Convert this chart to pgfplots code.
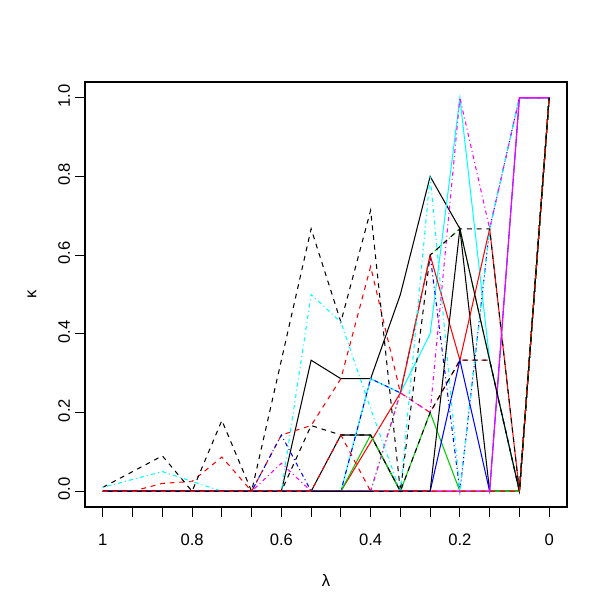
\documentclass[border=0pt]{standalone}
\usepackage{fontspec}
\setmainfont{Liberation Sans}
\usepackage{pgfplots}
\usepackage{pgfplotstable}
\pgfplotsset{compat=1.18}

\definecolor{rred}{RGB}{255,0,0}
\definecolor{rgreen}{RGB}{0,205,0}
\definecolor{rblue}{RGB}{0,0,255}
\definecolor{rcyan}{RGB}{0,255,255}
\definecolor{rmag}{RGB}{255,0,255}

% kappa for each run, index i = 0..15 stands for lambda = 1 - i/15
\pgfplotstableread{
i  ks1  kd1  kd2  ks2  ks3  rd1  rs1  rd2  bd1  bs1  cs1  cd1  md1  ms1  gs1  gd1
0  0    .01  0    0    0    0    0    0    0    0    0    .01  0    0    0    0
1  0    .05  0    0    0    0    0    0    0    0    0    .03  0    0    0    0
2  0    .09  0    0    0    .02  0    0    0    0    0    .05  0    0    0    0
3  0    0    0    0    0    .025 0    0    0    0    0    .025 0    0    0    0
4  0    .18  0    0    0    .087 0    0    0    0    0    0    0    0    0    0
5  0    0    0    0    0    0    0    0    0    0    0    0    0    0    0    0
6  0    .333 0    0    0    .143 0    0    .143 0    0    0    .071 0    0    0
7  .333 .667 .167 0    0    .167 0    0    0    0    0    .5   0    0    0    0
8  .286 .43  .143 0    .143 .286 0    .143 0    0    0    .43  0    0    0    0
9  .286 .714 .143 0    .143 .571 .125 0    .286 0    .286 .21  0    0    .143 0
10 .5   0    0    0    0    .25  .25  0    .25  0    .25  0    .25  0    0    .25
11 .8   .6   .2   0    0    .2   .6   0    .6   0    .4   .8   .2   0    .2   .6
12 .667 .667 .333 .667 0    .333 .333 0    0    .333 1    0    1    0    0    .667
13 0    .667 .333 .333 0    .333 .667 0    .667 0    .333 .667 .667 0    0    .333
14 0    0    0    0    0    0    0    0    1    1    0    1    1    1    0    0
15 1    1    1    1    1    1    1    1    1    1    1    1    1    1    1    1
}\kappadata

\pgfplotsset{
  sol/.style={solid, line width=0.75pt},
  das/.style={line width=0.75pt, dash pattern=on 3.5pt off 3.5pt},
  dd/.style={line width=0.75pt, dash pattern=on 0.75pt off 2.25pt on 3pt off 2.25pt},
}

\begin{document}
\begin{tikzpicture}
\begin{axis}[
    name=ax,
    scale only axis,
    width=4.82in, height=4.25in,
    xmin=-0.6, xmax=15.6,
    ymin=-0.04, ymax=1.04,
    xtick={0,...,15},
    xticklabels={1,,,0.8,,,0.6,,,0.4,,,0.2,,,0},
    ytick={0,0.2,0.4,0.6,0.8,1},
    yticklabels={0.0,0.2,0.4,0.6,0.8,1.0},
    tick align=outside,
    xtick pos=bottom, ytick pos=left,
    major tick length=0.1in,
    tick style={black, line width=0.75pt},
    axis line style={line width=0.75pt},
    font=\fontsize{12}{14}\selectfont,
    xticklabel shift=0.12in,
    yticklabel style={rotate=90, anchor=south, xshift=0.02in},
    xlabel={λ}, ylabel={κ},
    xlabel style={at={(axis description cs:0.5,-0.172)}, anchor=center},
    ylabel style={at={(axis description cs:-0.11,0.5)}, anchor=center},
    no markers,
    clip=false,
]
\addplot[black, sol]  table[x=i, y=ks3] {\kappadata};
\addplot[black, sol]  table[x=i, y=ks1] {\kappadata};
\addplot[rred, das]   table[x=i, y=rd1] {\kappadata};
\addplot[rgreen, dd]  table[x=i, y=gd1] {\kappadata};
\addplot[rcyan, sol]  table[x=i, y=cs1] {\kappadata};
\addplot[rblue, dd]   table[x=i, y=bd1] {\kappadata};
\addplot[rmag, dd]    table[x=i, y=md1] {\kappadata};
\addplot[rred, sol]   table[x=i, y=rs1] {\kappadata};
\addplot[black, das]  table[x=i, y=kd1] {\kappadata};
\addplot[rgreen, sol] table[x=i, y=gs1] {\kappadata};
\addplot[rblue, sol]  table[x=i, y=bs1] {\kappadata};
\addplot[rcyan, dd]   table[x=i, y=cd1] {\kappadata};
\addplot[rmag, sol]   table[x=i, y=ms1] {\kappadata};
\addplot[black, das]  table[x=i, y=kd2] {\kappadata};
\addplot[black, sol]  table[x=i, y=ks2] {\kappadata};
\addplot[rred, das]   table[x=i, y=rd2] {\kappadata};
\end{axis}
\path ([shift={(-0.85in,-1.02in)}]ax.south west) rectangle ([shift={(0.43in,0.82in)}]ax.north east);
\end{tikzpicture}
\end{document}
